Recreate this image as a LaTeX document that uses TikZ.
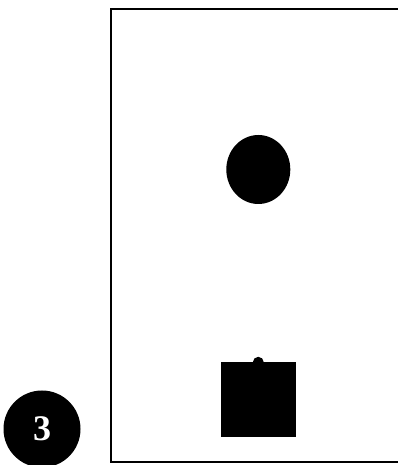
\documentclass[tikz,border=0pt]{standalone}
\usepackage{fontspec}
\setmainfont{Liberation Serif}
\usetikzlibrary{shapes.geometric}
\begin{document}
\begin{tikzpicture}[x=1pt,y=1pt,
  frame/.style={draw=black,line width=2pt},
  blob/.style={fill=black,draw=none}]
\useasboundingbox (0,0) rectangle (398,465);
\clip (0,0) rectangle (398,465);
% frame (right side out of view)
\coordinate (fr1) at (110.7,2.7);
\coordinate (fr2) at (420,455.7);
\draw[frame] (fr1) rectangle (fr2);
% ellipse
\node[blob,ellipse,minimum width=64pt,minimum height=69pt,inner sep=0pt] (ell) at (258.3,295.5) {};
% knob and square
\fill[black] (258.3,102.7) circle (5.5pt);
\node[blob,rectangle,minimum width=75pt,minimum height=75pt,inner sep=0pt] (box) at (258.5,65.2) {};
% numbered disc
\node[blob,circle,minimum size=77pt,inner sep=0pt,text=white,font=\bfseries\fontsize{36}{36}\selectfont] (num) at (42,36) {3};
\end{tikzpicture}
\end{document}
